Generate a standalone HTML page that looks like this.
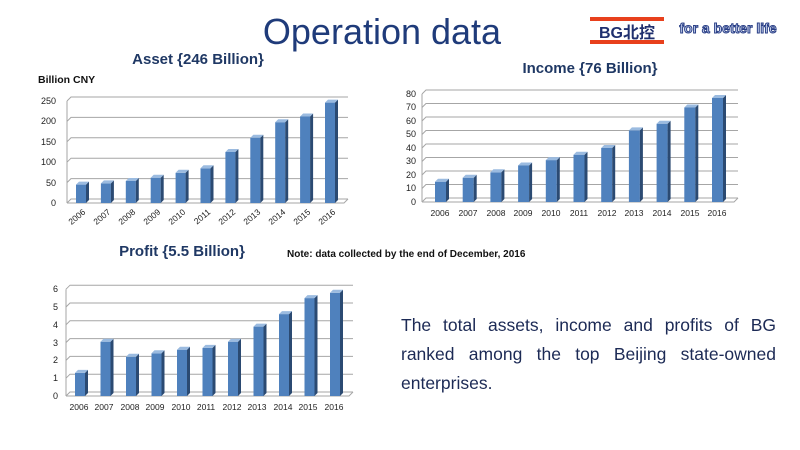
<!DOCTYPE html>
<html><head><meta charset="utf-8"><style>
body{margin:0;background:#fff;}
svg{display:block;font-family:"Liberation Sans","Noto Sans CJK SC",sans-serif;}
.f{fill:#4f81bd}.s{fill:#2b4a72}.t{fill:#9bbbe0}
.g{stroke:#a6a6a6;stroke-width:1;fill:none}
.yl{font-size:9px;fill:#222;text-anchor:end}
.xl{font-size:8.5px;fill:#222;text-anchor:middle}
.ttl{font-weight:bold;font-size:15px;fill:#1f3864;text-anchor:middle}
.p{position:absolute;left:401px;top:311px;width:375px;font-family:"Liberation Sans",sans-serif;font-size:17.5px;line-height:29px;color:#1c2a55;text-align:justify;text-align-last:left;}
</style></head><body>
<div style="position:relative;width:800px;height:450px;overflow:hidden">
<svg width="800" height="450" viewBox="0 0 800 450">
<text x="382" y="44" font-size="36" fill="#1f3b7a" text-anchor="middle">Operation data</text>
<!-- logo -->
<rect x="590" y="17" width="74" height="4" fill="#e8401c"/>
<rect x="590" y="40" width="74" height="4" fill="#e8401c"/>
<text x="627" y="38" font-size="16" font-weight="bold" fill="#1f2f6e" text-anchor="middle" font-family="Liberation Sans,'Noto Sans CJK SC',sans-serif">BG北控</text>
<text x="728" y="33" font-size="14" font-weight="bold" fill="#c7d3f0" stroke="#2a3f86" stroke-width="1" text-anchor="middle">for a better life</text>

<!-- Asset chart -->
<text class="ttl" x="198" y="64">Asset {246 Billion}</text>
<text x="38" y="83" font-size="10.5" font-weight="bold" fill="#111">Billion CNY</text>
<g class="g">
<path d="M67 203 l4 -4 H348 M67 182.6 l4 -4 H348 M67 162.2 l4 -4 H348 M67 141.8 l4 -4 H348 M67 121.4 l4 -4 H348 M67 101 l4 -4 H348"/>
<path d="M67 203 H344 l4 -4 M67 203 V101"/>
</g>
<g class="yl"><text x="56" y="206">0</text><text x="56" y="186">50</text><text x="56" y="165">100</text><text x="56" y="145">150</text><text x="56" y="124">200</text><text x="56" y="104">250</text></g>
<g>
<rect class="f" x="76" y="184.6" width="10" height="18.4"/><path class="s" d="M86 184.6 l3 -3 v18.4 l-3 3z"/><path class="t" d="M76 184.6 l3 -3 h10 l-3 3z"/>
<rect class="f" x="100.9" y="183.4" width="10" height="19.6"/><path class="s" d="M110.9 183.4 l3 -3 v19.6 l-3 3z"/><path class="t" d="M100.9 183.4 l3 -3 h10 l-3 3z"/>
<rect class="f" x="125.8" y="181" width="10" height="22"/><path class="s" d="M135.8 181 l3 -3 v22 l-3 3z"/><path class="t" d="M125.8 181 l3 -3 h10 l-3 3z"/>
<rect class="f" x="150.7" y="177.7" width="10" height="25.3"/><path class="s" d="M160.7 177.7 l3 -3 v25.3 l-3 3z"/><path class="t" d="M150.7 177.7 l3 -3 h10 l-3 3z"/>
<rect class="f" x="175.6" y="172.8" width="10" height="30.2"/><path class="s" d="M185.6 172.8 l3 -3 v30.2 l-3 3z"/><path class="t" d="M175.6 172.8 l3 -3 h10 l-3 3z"/>
<rect class="f" x="200.5" y="168.3" width="10" height="34.7"/><path class="s" d="M210.5 168.3 l3 -3 v34.7 l-3 3z"/><path class="t" d="M200.5 168.3 l3 -3 h10 l-3 3z"/>
<rect class="f" x="225.4" y="152" width="10" height="51"/><path class="s" d="M235.4 152 l3 -3 v51 l-3 3z"/><path class="t" d="M225.4 152 l3 -3 h10 l-3 3z"/>
<rect class="f" x="250.3" y="137.7" width="10" height="65.3"/><path class="s" d="M260.3 137.7 l3 -3 v65.3 l-3 3z"/><path class="t" d="M250.3 137.7 l3 -3 h10 l-3 3z"/>
<rect class="f" x="275.2" y="122.2" width="10" height="80.8"/><path class="s" d="M285.2 122.2 l3 -3 v80.8 l-3 3z"/><path class="t" d="M275.2 122.2 l3 -3 h10 l-3 3z"/>
<rect class="f" x="300.1" y="116.5" width="10" height="86.5"/><path class="s" d="M310.1 116.5 l3 -3 v86.5 l-3 3z"/><path class="t" d="M300.1 116.5 l3 -3 h10 l-3 3z"/>
<rect class="f" x="325" y="102.6" width="10" height="100.4"/><path class="s" d="M335 102.6 l3 -3 v100.4 l-3 3z"/><path class="t" d="M325 102.6 l3 -3 h10 l-3 3z"/>
</g>
<g font-size="8.5" fill="#222" text-anchor="end">
<text transform="translate(86,213) rotate(-40)">2006</text>
<text transform="translate(111,213) rotate(-40)">2007</text>
<text transform="translate(136,213) rotate(-40)">2008</text>
<text transform="translate(161,213) rotate(-40)">2009</text>
<text transform="translate(186,213) rotate(-40)">2010</text>
<text transform="translate(211,213) rotate(-40)">2011</text>
<text transform="translate(236,213) rotate(-40)">2012</text>
<text transform="translate(261,213) rotate(-40)">2013</text>
<text transform="translate(286,213) rotate(-40)">2014</text>
<text transform="translate(311,213) rotate(-40)">2015</text>
<text transform="translate(336,213) rotate(-40)">2016</text>
</g>

<!-- Income chart -->
<text class="ttl" x="590" y="73">Income {76 Billion}</text>
<g class="g">
<path d="M422 202 l4 -4 H738 M422 188.5 l4 -4 H738 M422 175 l4 -4 H738 M422 161.5 l4 -4 H738 M422 148 l4 -4 H738 M422 134.5 l4 -4 H738 M422 121 l4 -4 H738 M422 107.5 l4 -4 H738 M422 94 l4 -4 H738"/>
<path d="M422 202 H734 l4 -4 M422 202 V94"/>
</g>
<g class="yl" font-size="8"><text x="416" y="205">0</text><text x="416" y="191">10</text><text x="416" y="178">20</text><text x="416" y="164">30</text><text x="416" y="151">40</text><text x="416" y="137">50</text><text x="416" y="124">60</text><text x="416" y="110">70</text><text x="416" y="97">80</text></g>
<g>
<rect class="f" x="435" y="181.7" width="11" height="20.3"/><path class="s" d="M446 181.7 l3 -3 v20.3 l-3 3z"/><path class="t" d="M435 181.7 l3 -3 h11 l-3 3z"/>
<rect class="f" x="462.7" y="177.7" width="11" height="24.3"/><path class="s" d="M473.7 177.7 l3 -3 v24.3 l-3 3z"/><path class="t" d="M462.7 177.7 l3 -3 h11 l-3 3z"/>
<rect class="f" x="490.4" y="172.3" width="11" height="29.7"/><path class="s" d="M501.4 172.3 l3 -3 v29.7 l-3 3z"/><path class="t" d="M490.4 172.3 l3 -3 h11 l-3 3z"/>
<rect class="f" x="518.1" y="165.5" width="11" height="36.5"/><path class="s" d="M529.1 165.5 l3 -3 v36.5 l-3 3z"/><path class="t" d="M518.1 165.5 l3 -3 h11 l-3 3z"/>
<rect class="f" x="545.8" y="160.1" width="11" height="41.9"/><path class="s" d="M556.8 160.1 l3 -3 v41.9 l-3 3z"/><path class="t" d="M545.8 160.1 l3 -3 h11 l-3 3z"/>
<rect class="f" x="573.5" y="154.7" width="11" height="47.3"/><path class="s" d="M584.5 154.7 l3 -3 v47.3 l-3 3z"/><path class="t" d="M573.5 154.7 l3 -3 h11 l-3 3z"/>
<rect class="f" x="601.2" y="148" width="11" height="54"/><path class="s" d="M612.2 148 l3 -3 v54 l-3 3z"/><path class="t" d="M601.2 148 l3 -3 h11 l-3 3z"/>
<rect class="f" x="628.9" y="130.4" width="11" height="71.6"/><path class="s" d="M639.9 130.4 l3 -3 v71.6 l-3 3z"/><path class="t" d="M628.9 130.4 l3 -3 h11 l-3 3z"/>
<rect class="f" x="656.6" y="123.7" width="11" height="78.3"/><path class="s" d="M667.6 123.7 l3 -3 v78.3 l-3 3z"/><path class="t" d="M656.6 123.7 l3 -3 h11 l-3 3z"/>
<rect class="f" x="684.3" y="107.5" width="11" height="94.5"/><path class="s" d="M695.3 107.5 l3 -3 v94.5 l-3 3z"/><path class="t" d="M684.3 107.5 l3 -3 h11 l-3 3z"/>
<rect class="f" x="712" y="98" width="11" height="104"/><path class="s" d="M723 98 l3 -3 v104 l-3 3z"/><path class="t" d="M712 98 l3 -3 h11 l-3 3z"/>
</g>
<g class="xl" font-size="8"><text x="440" y="216">2006</text><text x="468" y="216">2007</text><text x="496" y="216">2008</text><text x="523" y="216">2009</text><text x="551" y="216">2010</text><text x="579" y="216">2011</text><text x="607" y="216">2012</text><text x="634" y="216">2013</text><text x="662" y="216">2014</text><text x="690" y="216">2015</text><text x="717" y="216">2016</text></g>

<!-- Profit chart -->
<text class="ttl" x="182" y="256">Profit {5.5 Billion}</text>
<text x="287" y="257" font-size="10" font-weight="bold" fill="#111">Note: data collected by the end of December, 2016</text>
<g class="g">
<path d="M66 396 l4 -4 H353 M66 378.2 l4 -4 H353 M66 360.4 l4 -4 H353 M66 342.6 l4 -4 H353 M66 324.8 l4 -4 H353 M66 307 l4 -4 H353 M66 289.2 l4 -4 H353"/>
<path d="M66 396 H349 l4 -4 M66 396 V289.2"/>
</g>
<g class="yl" font-size="8"><text x="58" y="399">0</text><text x="58" y="381">1</text><text x="58" y="363">2</text><text x="58" y="346">3</text><text x="58" y="328">4</text><text x="58" y="310">5</text><text x="58" y="292">6</text></g>
<g>
<rect class="f" x="75" y="372.9" width="10" height="23.1"/><path class="s" d="M85 372.9 l3 -3 v23.1 l-3 3z"/><path class="t" d="M75 372.9 l3 -3 h10 l-3 3z"/>
<rect class="f" x="100.5" y="341.7" width="10" height="54.3"/><path class="s" d="M110.5 341.7 l3 -3 v54.3 l-3 3z"/><path class="t" d="M100.5 341.7 l3 -3 h10 l-3 3z"/>
<rect class="f" x="126" y="356.8" width="10" height="39.2"/><path class="s" d="M136 356.8 l3 -3 v39.2 l-3 3z"/><path class="t" d="M126 356.8 l3 -3 h10 l-3 3z"/>
<rect class="f" x="151.5" y="353.3" width="10" height="42.7"/><path class="s" d="M161.5 353.3 l3 -3 v42.7 l-3 3z"/><path class="t" d="M151.5 353.3 l3 -3 h10 l-3 3z"/>
<rect class="f" x="177" y="349.7" width="10" height="46.3"/><path class="s" d="M187 349.7 l3 -3 v46.3 l-3 3z"/><path class="t" d="M177 349.7 l3 -3 h10 l-3 3z"/>
<rect class="f" x="202.5" y="347.9" width="10" height="48.1"/><path class="s" d="M212.5 347.9 l3 -3 v48.1 l-3 3z"/><path class="t" d="M202.5 347.9 l3 -3 h10 l-3 3z"/>
<rect class="f" x="228" y="341.7" width="10" height="54.3"/><path class="s" d="M238 341.7 l3 -3 v54.3 l-3 3z"/><path class="t" d="M228 341.7 l3 -3 h10 l-3 3z"/>
<rect class="f" x="253.5" y="326.6" width="10" height="69.4"/><path class="s" d="M263.5 326.6 l3 -3 v69.4 l-3 3z"/><path class="t" d="M253.5 326.6 l3 -3 h10 l-3 3z"/>
<rect class="f" x="279" y="314.1" width="10" height="81.9"/><path class="s" d="M289 314.1 l3 -3 v81.9 l-3 3z"/><path class="t" d="M279 314.1 l3 -3 h10 l-3 3z"/>
<rect class="f" x="304.5" y="298.1" width="10" height="97.9"/><path class="s" d="M314.5 298.1 l3 -3 v97.9 l-3 3z"/><path class="t" d="M304.5 298.1 l3 -3 h10 l-3 3z"/>
<rect class="f" x="330" y="292.8" width="10" height="103.2"/><path class="s" d="M340 292.8 l3 -3 v103.2 l-3 3z"/><path class="t" d="M330 292.8 l3 -3 h10 l-3 3z"/>
</g>
<g class="xl" font-size="8"><text x="79" y="410">2006</text><text x="104" y="410">2007</text><text x="130" y="410">2008</text><text x="155" y="410">2009</text><text x="181" y="410">2010</text><text x="206" y="410">2011</text><text x="232" y="410">2012</text><text x="257" y="410">2013</text><text x="283" y="410">2014</text><text x="308" y="410">2015</text><text x="334" y="410">2016</text></g>
</svg>
<div class="p">The total assets, income and profits of BG ranked among the top Beijing state-owned enterprises.</div>
</div>
</body></html>
